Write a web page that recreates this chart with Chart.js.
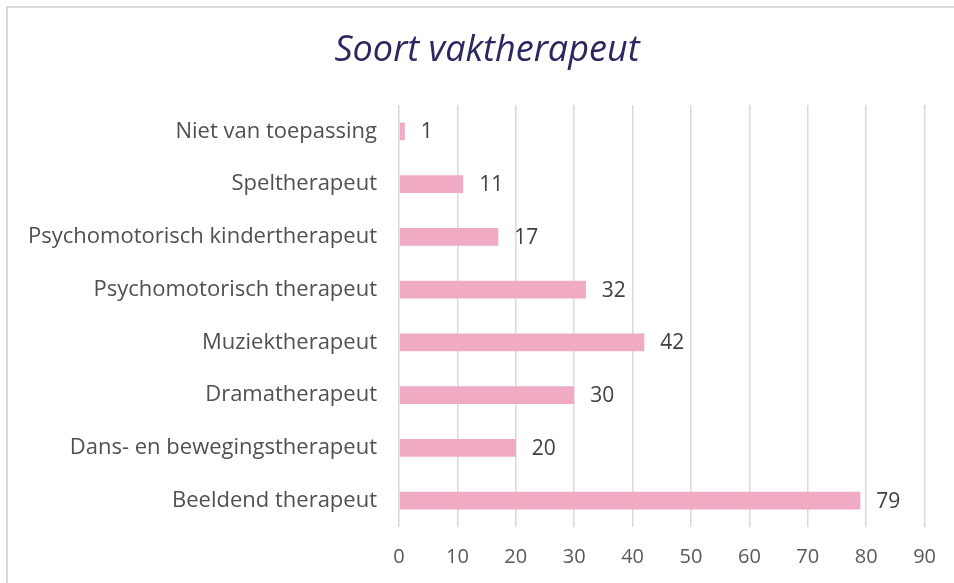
<!DOCTYPE html>
<html>
<head>
<meta charset="utf-8">
<script src="https://cdn.jsdelivr.net/npm/chart.js@4"></script>
<style>
  html, body { margin: 0; padding: 0; background: #fff; overflow: hidden; }
  #frame { position: absolute; left: 6px; top: 6px; width: 1000px; height: 700px;
           border-left: 2px solid #D9D9D9; border-top: 2px solid #D9D9D9; }
  #wrap { position: absolute; left: 0; top: 0; width: 954px; height: 583px; }
  #title { position: absolute; left: 20px; width: 934px; top: 25px; text-align: center;
           font-family: 'Open Sans', sans-serif; font-style: italic; font-size: 36px;
           line-height: 46px; color: #2B2760; margin: 0; font-weight: normal; }
</style>
</head>
<body>
<div id="frame"></div>
<div id="wrap"><canvas id="chart" width="954" height="583"></canvas></div>
<h1 id="title">Soort vaktherapeut</h1>
<script>
const categories = [
  "Niet van toepassing",
  "Speltherapeut",
  "Psychomotorisch kindertherapeut",
  "Psychomotorisch therapeut",
  "Muziektherapeut",
  "Dramatherapeut",
  "Dans- en bewegingstherapeut",
  "Beeldend therapeut"
];
const counts = [1, 11, 17, 32, 42, 30, 20, 79];
const xMin = 0;
const xMax = 90;
const xStep = 10;

// draws the value next to each bar
const valueLabels = {
  id: "valueLabels",
  afterDatasetsDraw(chart) {
    const ctx = chart.ctx;
    const meta = chart.getDatasetMeta(0);
    ctx.save();
    ctx.font = "21px 'Open Sans'";
    ctx.fillStyle = "#404040";
    ctx.textAlign = "left";
    ctx.textBaseline = "middle";
    meta.data.forEach((bar, i) => {
      ctx.fillText(String(counts[i]), bar.x + 16, bar.y + 1);
    });
    ctx.restore();
  }
};

new Chart(document.getElementById("chart"), {
  type: "bar",
  data: {
    labels: categories,
    datasets: [{
      data: counts,
      backgroundColor: "#F0AAC3",
      categoryPercentage: 1,
      barPercentage: 0.34
    }]
  },
  options: {
    indexAxis: "y",
    responsive: false,
    animation: false,
    layout: { padding: { left: 0, right: 29, top: 105, bottom: 0 } },
    plugins: {
      legend: { display: false },
      tooltip: { enabled: false },
      title: { display: false }
    },
    scales: {
      x: {
        min: xMin,
        max: xMax,
        ticks: { stepSize: xStep, color: "#595959", font: { family: "'Open Sans'", size: 20 }, padding: 18 },
        grid: { color: "#D9D9D9", lineWidth: 1.5, drawTicks: false },
        border: { display: false },
        afterFit(scale) { scale.height = 56; }
      },
      y: {
        ticks: { color: "#505050", font: { family: "'Open Sans'", size: 22 }, padding: 22 },
        grid: { display: false, drawTicks: false },
        border: { display: false },
        afterFit(scale) { scale.width = 399; }
      }
    }
  },
  plugins: [valueLabels]
});
</script>
</body>
</html>
